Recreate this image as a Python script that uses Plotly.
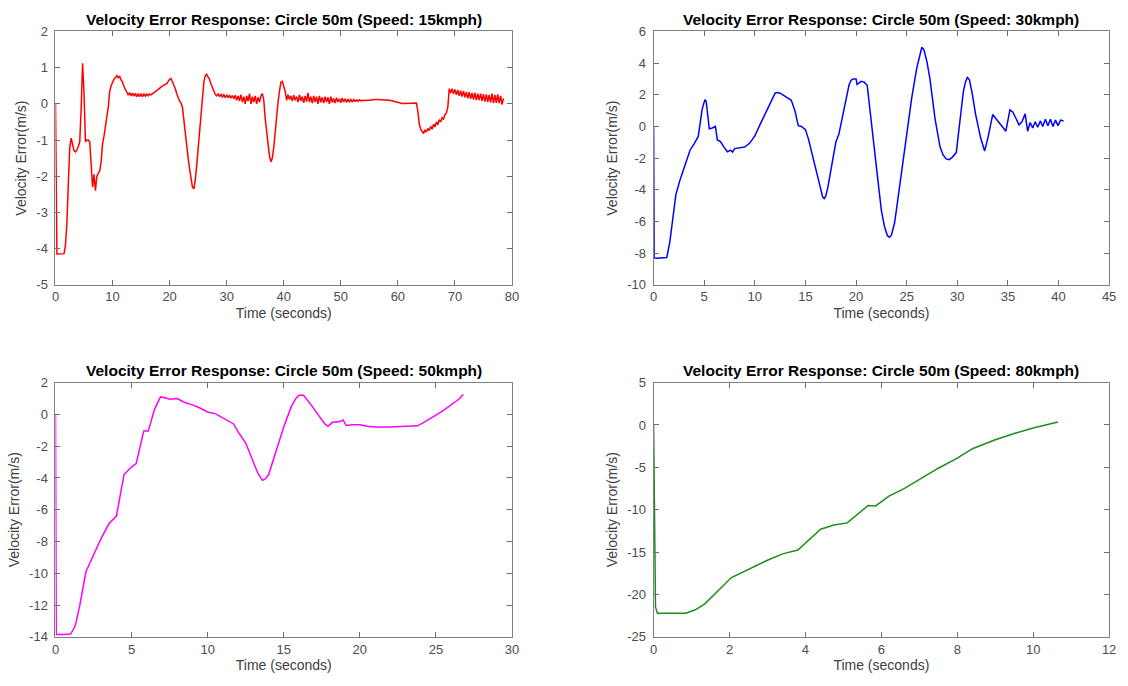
import plotly.graph_objects as go

# ---- 15 km/h run: velocity error sampled every 0.25 s ----
dt15 = 0.25
v15 = [
    0.0, -4.15, -4.15, -4.15, -4.16, -4.16, -4.14, -3.9, -3.3, -2.2, -1.2, -0.95, -1.15, -1.3, -1.33, -1.28, -1.18, -1.05, -0.1, 1.12,
    0.3, -1.05, -1.0, -1.0, -1.05, -1.6, -2.3, -1.95, -2.4, -2.0, -1.9, -1.85, -1.6, -1.1, -0.9, -0.55, -0.35, -0.1, 0.35, 0.5,
    0.6, 0.68, 0.72, 0.78, 0.72, 0.76, 0.66, 0.6, 0.48, 0.38, 0.32, 0.24, 0.31, 0.22, 0.3, 0.21, 0.29, 0.2, 0.28, 0.2,
    0.28, 0.2, 0.27, 0.21, 0.27, 0.22, 0.27, 0.25, 0.28, 0.3, 0.32, 0.35, 0.38, 0.42, 0.46, 0.5, 0.52, 0.54, 0.56, 0.62,
    0.68, 0.7, 0.62, 0.52, 0.42, 0.28, 0.15, 0.08, 0.02, -0.1, -0.45, -0.85, -1.2, -1.5, -1.8, -2.1, -2.3, -2.35, -2.1, -1.7,
    -1.2, -0.7, -0.2, 0.3, 0.6, 0.78, 0.82, 0.74, 0.68, 0.55, 0.45, 0.32, 0.26, 0.22, 0.28, 0.2, 0.26, 0.19, 0.25, 0.18,
    0.24, 0.17, 0.24, 0.16, 0.23, 0.14, 0.24, 0.1, 0.22, 0.08, 0.25, 0.05, 0.2, 0.0, 0.22, 0.08, 0.28, 0.0, 0.2, 0.05,
    0.22, 0.0, 0.18, 0.05, 0.22, 0.28, 0.1, -0.4, -0.8, -1.15, -1.45, -1.6, -1.5, -1.2, -0.75, -0.3, 0.05, 0.35, 0.6, 0.62,
    0.48, 0.35, 0.1, 0.25, 0.12, 0.22, 0.08, 0.24, 0.1, 0.2, 0.05, 0.25, 0.08, 0.2, 0.03, 0.22, 0.06, 0.3, 0.05, 0.2,
    0.02, 0.22, 0.05, 0.2, 0.0, 0.22, 0.04, 0.18, 0.02, 0.2, 0.05, 0.18, 0.0, 0.2, 0.04, 0.15, 0.02, 0.17, 0.05, 0.14,
    0.03, 0.16, 0.05, 0.14, 0.04, 0.13, 0.06, 0.12, 0.05, 0.12, 0.07, 0.11, 0.07, 0.11, 0.08, 0.1, 0.09, 0.1, 0.1, 0.1,
    0.1, 0.11, 0.11, 0.11, 0.12, 0.12, 0.12, 0.12, 0.12, 0.12, 0.12, 0.12, 0.11, 0.11, 0.1, 0.09, 0.08, 0.07, 0.05, 0.04,
    0.03, 0.02, 0.02, 0.01, 0.01, 0.01, 0.01, 0.01, 0.01, 0.01, 0.01, 0.01, 0.02, 0.02, -0.2, -0.55, -0.7, -0.78, -0.82, -0.72,
    -0.78, -0.68, -0.74, -0.62, -0.7, -0.56, -0.64, -0.5, -0.58, -0.44, -0.5, -0.38, -0.42, -0.3, -0.25, -0.1, 0.42, 0.3, 0.42, 0.28,
    0.4, 0.25, 0.38, 0.22, 0.36, 0.2, 0.35, 0.18, 0.33, 0.15, 0.32, 0.14, 0.3, 0.12, 0.3, 0.1, 0.28, 0.1, 0.28, 0.08,
    0.27, 0.06, 0.26, 0.05, 0.25, 0.04, 0.28, 0.02, 0.25, 0.03, 0.26, 0.02, 0.22, -0.02, 0.15,
]
t15 = [round(i * dt15, 2) for i in range(len(v15))]

# ---- 30 km/h run ----
t30 = [
    0, 0.05, 0.3, 0.8, 1.3, 1.6, 1.9, 2.2, 2.6, 3.0, 3.3, 3.6,
    4.0, 4.4, 4.6, 4.8, 5.0, 5.1, 5.2, 5.5, 5.8, 6.1, 6.3,
    6.6, 7.0, 7.3, 7.6, 7.8, 8.0, 8.5, 9.0, 9.5, 10.0,
    10.5, 11.0, 11.5, 11.8, 12.0, 12.2, 12.5, 13.0, 13.6, 13.8, 14.0, 14.2, 14.3, 14.6,
    15.0, 15.3, 15.7, 16.2, 16.5, 16.7, 16.85, 17.0, 17.2, 17.5, 18.0, 18.3,
    18.6, 19.0, 19.3, 19.5, 19.7, 20.0, 20.1, 20.5, 20.8, 21.1, 21.5,
    22.0, 22.5, 22.8, 23.1, 23.3, 23.5, 23.8, 24.0, 24.5, 25.0, 25.5, 26.0,
    26.3, 26.5, 26.7, 27.0, 27.3, 27.8, 28.3, 28.6, 28.9, 29.2, 29.5, 29.9, 30.2,
    30.6, 30.8, 31.0, 31.2, 31.5, 31.8, 32.3, 32.7, 33.0, 33.5, 34.0, 34.5,
    34.8, 35.2, 35.5, 35.8, 36.1, 36.4, 36.7, 36.95, 37.2, 37.45, 37.7, 37.95,
    38.2, 38.45, 38.7, 38.95, 39.2, 39.45, 39.7, 39.95, 40.2, 40.5,
]
v30 = [
    0, -8.3, -8.32, -8.32, -8.28, -7.3, -5.8, -4.3, -3.4, -2.6, -2.0, -1.5,
    -1.1, -0.65, 0.2, 1.1, 1.55, 1.7, 1.55, -0.15, -0.1, 0.0, -0.85,
    -0.95, -1.35, -1.6, -1.5, -1.62, -1.4, -1.35, -1.3, -1.05, -0.6,
    0.1, 0.8, 1.5, 1.9, 2.1, 2.15, 2.1, 1.9, 1.65, 1.3, 0.9, 0.3, 0.05, 0.0,
    -0.2, -0.8, -1.9, -3.2, -4.0, -4.45, -4.55, -4.4, -3.9, -2.8, -1.0, -0.5,
    0.4, 1.8, 2.6, 2.9, 3.0, 3.0, 2.65, 2.85, 2.8, 2.6, 0.5,
    -2.5, -5.3, -6.3, -6.9, -7.0, -6.85, -6.1, -5.2, -2.8, -0.5, 1.8, 3.7,
    4.6, 5.0, 4.85, 4.1, 3.0, 0.5, -1.3, -1.8, -2.05, -2.1, -1.95, -1.65, 0.0,
    2.2, 2.8, 3.1, 2.95, 2.0, 0.8, -0.7, -1.55, -0.8, 0.75, 0.35, 0.0,
    -0.3, 1.05, 0.9, 0.5, 0.1, 0.3, 0.8, -0.3, 0.25, -0.1, 0.3, -0.05,
    0.35, 0.0, 0.45, 0.05, 0.45, 0.0, 0.4, 0.05, 0.4, 0.35,
]

# ---- 50 km/h run ----
t50 = [
    0, 0.05, 0.5, 1.0, 1.3, 1.6, 2.0, 2.5, 3.0, 3.5,
    4.0, 4.5, 5.0, 5.3, 5.8, 6.1, 6.5, 6.9, 7.2, 7.5,
    8.0, 8.5, 9.0, 9.5, 10.0, 10.5, 11.0, 11.5, 11.7, 12.0,
    12.5, 13.0, 13.3, 13.6, 13.8, 14.0, 14.5, 15.0, 15.5, 15.8, 16.0,
    16.3, 16.8, 17.3, 17.7, 17.9, 18.2, 18.7, 18.9, 19.1, 19.5,
    20.0, 20.5, 21.0, 22.0, 23.0, 23.8, 24.2, 24.6, 25.0, 25.5,
    26.0, 26.5, 26.8,
]
v50 = [
    0, -13.85, -13.85, -13.82, -13.3, -12.0, -9.9, -8.8, -7.8, -6.9,
    -6.4, -3.8, -3.3, -3.1, -1.05, -1.05, 0.3, 1.1, 1.05, 0.95,
    1.0, 0.75, 0.6, 0.4, 0.15, 0.05, -0.2, -0.45, -0.6, -1.1,
    -1.8, -3.0, -3.7, -4.15, -4.05, -3.8, -2.3, -0.8, 0.5, 1.0, 1.2,
    1.2, 0.6, -0.1, -0.6, -0.75, -0.5, -0.45, -0.35, -0.7, -0.65,
    -0.65, -0.75, -0.8, -0.8, -0.75, -0.72, -0.5, -0.25, -0.05, 0.25,
    0.6, 0.95, 1.25,
]

# ---- 80 km/h run ----
t80 = [0, 0.05, 0.1, 0.85, 1.1, 1.35, 2.05, 2.5, 3.0, 3.4, 3.8, 4.4, 4.75,
       5.1, 5.65, 5.85, 6.2, 6.6, 7.0, 7.5, 8.0, 8.4, 9.0, 9.5, 10.0, 10.65]
v80 = [0, -21.5, -22.2, -22.2, -21.8, -21.1, -18.0, -17.0, -15.95, -15.2, -14.75, -12.3, -11.8,
       -11.55, -9.5, -9.55, -8.4, -7.5, -6.4, -5.1, -3.9, -2.8, -1.75, -1.0, -0.35, 0.35]

assert len(t30) == len(v30) and len(t50) == len(v50) and len(t80) == len(v80)

speeds = ["15kmph", "30kmph", "50kmph", "80kmph"]
colors = ["#ff0000", "#0000ff", "#ff00ff", "#1e8c1e"]

# axis ranges and tick values per panel
x_ranges = [[0, 80], [0, 45], [0, 30], [0, 12]]
y_ranges = [[-5, 2], [-10, 6], [-14, 2], [-25, 5]]
x_ticks = [list(range(0, 81, 10)), list(range(0, 46, 5)), list(range(0, 31, 5)), list(range(0, 13, 2))]
y_ticks = [list(range(-5, 3, 1)), list(range(-10, 7, 2)), list(range(-14, 3, 2)), list(range(-25, 6, 5))]

W, H = 1128, 686
# plot-area boxes in pixels: (left, right, top, bottom)
boxes = [(52, 513, 25, 284), (656, 1116, 25, 284), (52, 513, 384, 644), (656, 1116, 384, 644)]

series = [(t15, v15), (t30, v30), (t50, v50), (t80, v80)]

FONT = "Liberation Sans, Arial, Helvetica, sans-serif"
fig = go.Figure()
layout = dict(
    width=W, height=H,
    margin=dict(l=0, r=0, t=0, b=0),
    paper_bgcolor="white", plot_bgcolor="white",
    showlegend=False,
    font=dict(family=FONT, color="#4d4d4d"),
    annotations=[],
)

for i, ((t, v), col) in enumerate(zip(series, colors)):
    k = "" if i == 0 else str(i + 1)
    fig.add_trace(go.Scatter(x=t, y=v, mode="lines", line=dict(color=col, width=1.5),
                             xaxis="x" + k, yaxis="y" + k, hoverinfo="x+y"))
    l, r, tp, bt = boxes[i]
    common = dict(
        ticks="inside", ticklen=5, tickwidth=1, tickcolor="#6e6e6e",
        showline=True, linecolor="#808080", linewidth=1, mirror="ticks",
        showgrid=False, zeroline=False,
        tickfont=dict(family=FONT, size=13, color="#4d4d4d"),
    )
    layout["xaxis" + k] = dict(
        common, domain=[l / W, r / W], range=x_ranges[i], anchor="y" + k,
        tickvals=x_ticks[i], ticktext=[str(x) for x in x_ticks[i]],
        title=dict(text="Time (seconds)", font=dict(family=FONT, size=14, color="#404040"), standoff=4),
    )
    layout["yaxis" + k] = dict(
        common, domain=[1 - bt / H, 1 - tp / H], range=y_ranges[i], anchor="x" + k,
        tickvals=y_ticks[i], ticktext=[str(y) for y in y_ticks[i]],
        ticklabelstandoff=4,
        title=dict(text="Velocity Error(m/s)", font=dict(family=FONT, size=14, color="#404040"), standoff=6),
    )
    layout["annotations"].append(dict(
        text="<b>Velocity Error Response: Circle 50m (Speed: %s)</b>" % speeds[i],
        x=(l + r) / 2 / W, y=1 - (tp - 12) / H, xref="paper", yref="paper",
        xanchor="center", yanchor="middle", showarrow=False,
        font=dict(family=FONT, size=15.5, color="#000000"),
    ))

fig.update_layout(**layout)
fig.write_html("out.html")
